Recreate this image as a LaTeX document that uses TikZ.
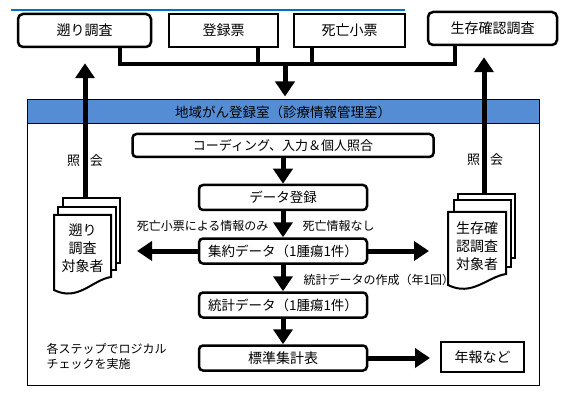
\documentclass[tikz,border=0pt]{standalone}
\usepackage{fontspec}
\setmainfont{Noto Sans CJK JP}
\usetikzlibrary{arrows.meta}
\definecolor{barblue}{RGB}{84,141,212}
\definecolor{lineblue}{RGB}{0,112,192}
\tikzset{
  topbox/.style={draw, line width=2.5pt, minimum height=33pt, font=\fontsize{14}{16}\selectfont},
  stepbox/.style={draw, line width=2.5pt, rounded corners=4pt, minimum width=168pt, minimum height=25pt, font=\fontsize{13.5}{15}\selectfont},
  bigarrow/.style={line width=5pt, -{Triangle[length=15pt,width=19pt]}},
  bus/.style={line width=4.5pt},
  sheet/.style={draw, line width=2pt, fill=white},
  note/.style={font=\fontsize{12}{15}\selectfont},
}
\begin{document}
\begin{tikzpicture}[x=1pt,y=-1pt]
\useasboundingbox (0,0) rectangle (570,406);
\draw[lineblue, line width=1.5pt] (11,10) -- (405,10);
\node[topbox, rounded corners=5pt, minimum width=133pt] (sakanobori) at (84.5,30.5) {遡り調査};
\node[topbox, minimum width=109pt] (torokuhyo) at (223.5,30.5) {登録票};
\node[topbox, minimum width=111pt] (shibo) at (349.5,30.5) {死亡小票};
\node[topbox, rounded corners=5pt, minimum width=129pt] (seizon) at (492.5,28.5) {生存確認調査};
\coordinate (footA) at (120,64);
\coordinate (footB) at (258,64);
\coordinate (footC) at (312,64);
\coordinate (footD) at (455,64);
\coordinate (busdown) at (285,64);
\draw[bus] (sakanobori.south -| footA) -- (footA) -- (footD) -- (seizon.south -| footD);
\draw[bus] (torokuhyo.south -| footB) -- (footB);
\draw[bus] (shibo.south -| footC) -- (footC);
\draw[line width=1pt] (27,100) rectangle (539,385);
\node[draw, line width=1pt, fill=barblue, minimum width=512pt, minimum height=24pt, inner sep=0pt, font=\fontsize{13.5}{15}\selectfont] (office) at (283,112) {地域がん登録室（診療情報管理室）};
\draw[bigarrow, shorten >=3pt] (busdown) -- (office.north -| busdown);
\node[stepbox, minimum width=301pt, minimum height=23pt, font=\fontsize{13}{15}\selectfont] (coding) at (283,145.5) {コーディング、入力＆個人照合};
\node[stepbox] (datareg) at (283,197.5) {データ登録};
\node[stepbox] (shuyaku) at (283,251) {集約データ（1腫瘍1件）};
\node[stepbox] (tokei) at (283,305) {統計データ（1腫瘍1件）};
\node[stepbox, font=\fontsize{14}{16}\selectfont] (hyojun) at (283,358) {標準集計表};
\node[draw, line width=2pt, minimum width=83pt, minimum height=30pt, font=\fontsize{14}{16}\selectfont] (nenpo) at (482.5,357) {年報など};
\draw[bigarrow] (coding) -- (datareg);
\draw[bigarrow] (datareg) -- (shuyaku);
\draw[bigarrow] (shuyaku) -- (tokei);
\draw[bigarrow] (tokei) -- (hyojun);
\draw[bigarrow, shorten >=10pt] (hyojun.east) -- (hyojun.east -| nenpo.west);
\coordinate (toL) at (137,251);
\coordinate (toR) at (429,251);
\draw[bigarrow] (shuyaku.west) -- (toL);
\draw[bigarrow] (shuyaku.east) -- (toR);
\node[note, anchor=east] (onlydeath) at (272,226) {死亡小票による情報のみ};
\node[note, anchor=west] (nodeath) at (299,226) {死亡情報なし};
\node[note, anchor=west] (makestat) at (300,280) {統計データの作成（年1回）};
\node[note, anchor=north west, align=left] (logical) at (43,340) {各ステップでロジカル\\チェックを実施};
\draw[sheet] (63,198) rectangle (120,263);
\draw[sheet] (58,207) rectangle (116,270);
\draw[sheet] (54,215) -- (111,215) -- (111,277) .. controls (92,280) and (78,302) .. (54,290) -- cycle;
\node[align=center, font=\fontsize{14}{18}\selectfont] (targetL) at (82.5,248) {遡り\\調査\\対象者};
\draw[sheet] (458,194) rectangle (515,258);
\draw[sheet] (454,200) rectangle (511,267);
\draw[sheet] (448,212) -- (506,212) -- (506,274) .. controls (487,277) and (472,297) .. (448,285) -- cycle;
\node[align=center, font=\fontsize{14}{18}\selectfont] (targetR) at (477,246) {生存確\\認調査\\対象者};
\coordinate (docL) at (85,198);
\coordinate (docR) at (484,194);
\draw[bigarrow, shorten >=15pt] (docL) -- (sakanobori.south -| docL);
\draw[bigarrow, shorten >=11pt] (docR) -- (seizon.south -| docR);
\node[note, font=\fontsize{13}{15}\selectfont] (askL) at (85,161) {照\hspace{10pt}会};
\node[note, font=\fontsize{13}{15}\selectfont] (askR) at (485,160) {照\hspace{10pt}会};
\end{tikzpicture}
\end{document}
